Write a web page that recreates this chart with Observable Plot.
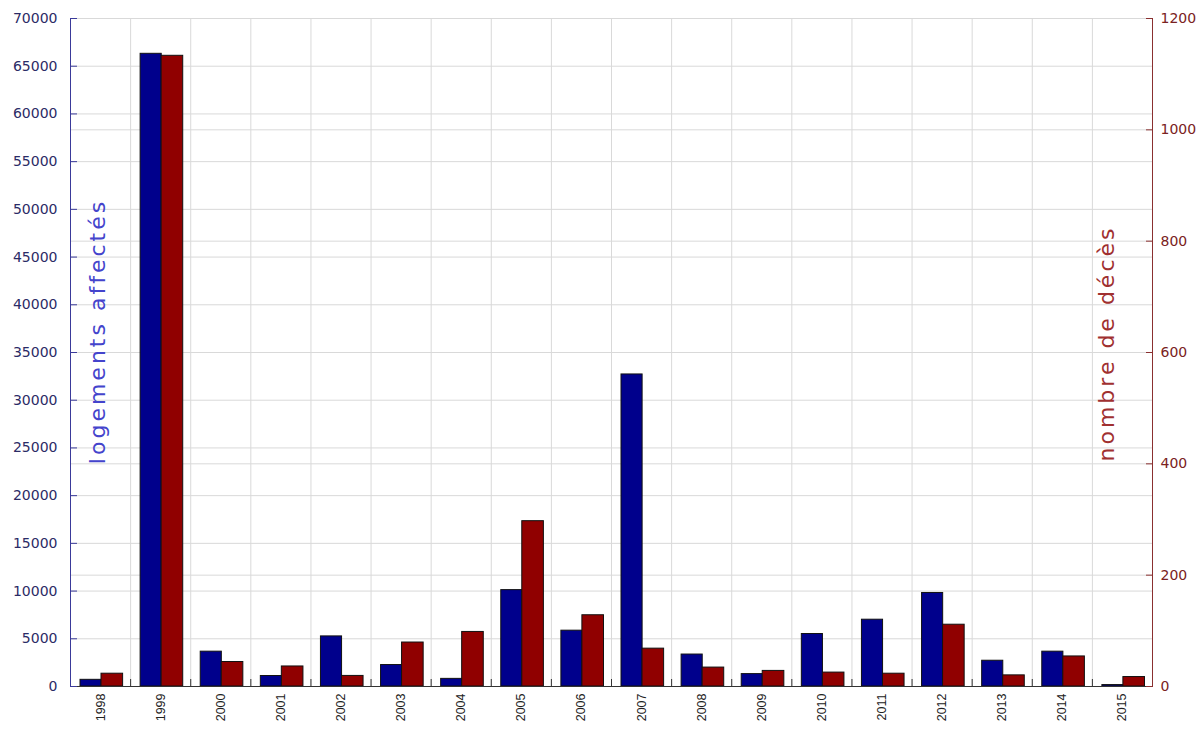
<!DOCTYPE html>
<html><head><meta charset="utf-8">
<script src="https://cdn.jsdelivr.net/npm/d3@7"></script>
<script src="https://cdn.jsdelivr.net/npm/@observablehq/plot@0.6"></script>
<style>
body{margin:0;background:#fff;}
#chart svg{display:block;}
</style>
</head><body><div id="chart"></div>
<script>
const years = [1998,1999,2000,2001,2002,2003,2004,2005,2006,2007,2008,2009,2010,2011,2012,2013,2014,2015];
const logements = [700,66300,3650,1100,5250,2250,800,10100,5850,32700,3350,1300,5500,7000,9800,2700,3650,150];
const deces = [23,1133,44,36,19,79,98,297,128,68,34,28,25,23,111,20,54,17];
const leftTicks = [0,5000,10000,15000,20000,25000,30000,35000,40000,45000,50000,55000,60000,65000,70000];
const rightTicks = [0,200,400,600,800,1000,1200];
const leftTitle = "logements affectés";
const rightTitle = "nombre de décès";

const leftMax = 70000, rightMax = 1200;
const toLeft = v => v * leftMax / rightMax;
const rows = years.map((year, i) => ({year, logements: logements[i], deces: deces[i]}));
const boundaries = years.slice(1).map(y => y - 0.5);
const rightTicksL = rightTicks.map(toLeft);

const blue = "#00008c", red = "#900000";
const grid = "#d9d9d9";

const chart = Plot.plot({
  width: 1203,
  height: 729,
  marginLeft: 70,
  marginRight: 51,
  marginTop: 18,
  marginBottom: 43,
  style: {fontFamily: "DejaVu Sans", background: "#fff"},
  x: {type: "linear", domain: [years[0] - 0.5, years[years.length - 1] + 0.5], label: null},
  y: {domain: [0, leftMax], label: null},
  marks: [
    Plot.gridY(leftTicks, {stroke: grid, strokeOpacity: 1}),
    Plot.gridY(rightTicksL, {stroke: grid, strokeOpacity: 1}),
    Plot.gridX(boundaries, {stroke: grid, strokeOpacity: 1}),
    Plot.rectY(rows, {x1: d => d.year - 0.5, x2: d => d.year + 0.5, y: "logements", insetLeft: 10, insetRight: 29, fill: blue, stroke: "#111", strokeWidth: 1}),
    Plot.rectY(rows, {x1: d => d.year - 0.5, x2: d => d.year + 0.5, y: d => toLeft(d.deces), insetLeft: 31, insetRight: 7.5, fill: red, stroke: "#111", strokeWidth: 1}),
    Plot.frame({anchor: "left", stroke: "#3a3a9a"}),
    Plot.frame({anchor: "right", stroke: "#8a3030"}),
    Plot.frame({anchor: "bottom", stroke: "#333"}),
    Plot.axisY(leftTicks, {anchor: "left", tickSize: 0, tickPadding: 13, color: "#2b2b66", fontSize: 14, label: null, tickFormat: d => String(d)}),
    Plot.axisY(leftTicks, {anchor: "left", tickSize: -7, text: null, stroke: "#3a3a9a", label: null}),
    Plot.axisY(rightTicksL, {anchor: "right", tickSize: 0, tickPadding: 8, color: "#7a2222", fontSize: 14, label: null, tickFormat: d => String(Math.round(d * rightMax / leftMax))}),
    Plot.axisY(rightTicksL, {anchor: "right", tickSize: -7, text: null, stroke: "#8a3030", label: null}),
    Plot.axisX(boundaries, {anchor: "bottom", tickSize: -7, text: null, stroke: "#333", label: null}),
    Plot.axisX(years, {anchor: "bottom", tickSize: 0, tickPadding: 7, tickRotate: -90, fontSize: 12.5, fontFamily: "Liberation Sans", color: "#222", label: null, tickFormat: d => String(d)}),
    Plot.text([leftTitle], {frameAnchor: "left", textAnchor: "middle", text: d => d, rotate: -90, dx: 27, dy: -21, fontSize: 22, fill: "#4444cc"}),
    Plot.text([rightTitle], {frameAnchor: "right", textAnchor: "middle", text: d => d, rotate: -90, dx: -46, dy: -9, fontSize: 22, fill: "#a03030"})
  ]
});
chart.querySelectorAll("text").forEach(t => {
  if (t.textContent === leftTitle || t.textContent === rightTitle) t.setAttribute("letter-spacing", "3");
});
document.getElementById("chart").appendChild(chart);
</script>
</body></html>
